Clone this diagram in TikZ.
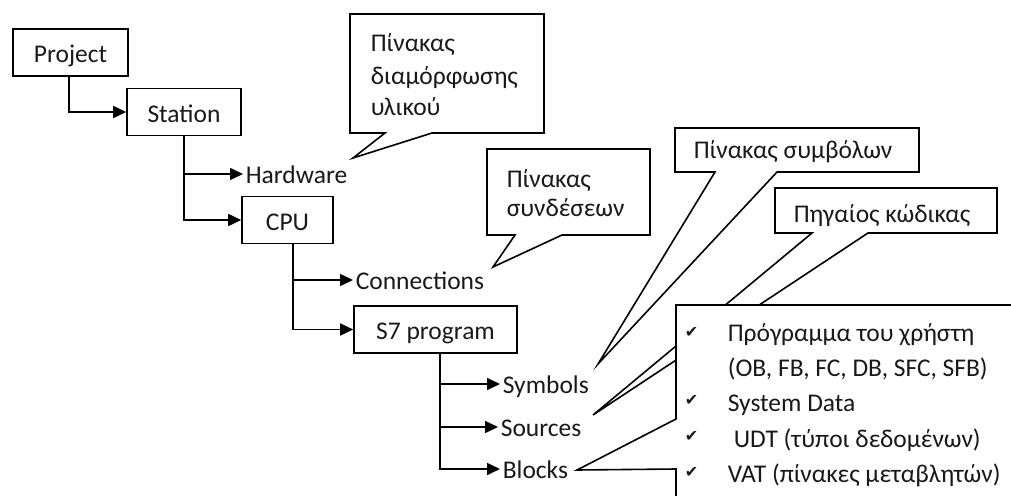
\documentclass[tikz,border=0pt]{standalone}
\usepackage{fontspec}
\setmainfont{Carlito}
\newfontfamily\tickfont{DejaVu Sans}
\usetikzlibrary{arrows.meta,calc}

\begin{document}
\begin{tikzpicture}[x=1pt,y=-1pt,
  line width=1.6pt,
  every node/.style={font=\fontsize{25.5}{31}\selectfont, inner sep=0pt, text=black!90},
  box/.style={draw=black, minimum height=47pt, text height=20pt, text depth=0pt},
  item/.style={anchor=base west, text height=18pt, text depth=0pt},
  txt/.style={anchor=base west},
  link/.style={-{Triangle[length=13pt,width=12pt]}, shorten >=2pt},
  note/.style={draw, fill=white, line join=miter},
  tick/.style={font=\tickfont\fontsize{16}{20}\selectfont, anchor=base west}
]
\useasboundingbox (0,0) rectangle (1011,495);
\clip (0,0) rectangle (1011,495);

% --- tree of project objects ---
\node[box, minimum width=115pt] (project) at (70.5,52.5) {Project};
\node[box, minimum width=114pt] (station) at (184,112) {Station};
\node[box, minimum width=91pt]  (cpu)     at (287.5,220) {CPU};
\node[box, minimum width=163pt] (s7)      at (435.5,329.5) {S7 program};

\node[item] (hw)   at (245,183) {Hardware};
\node[item] (conn) at (355,289) {Connections};
\node[item] (sym)  at (502,393) {Symbols};
\node[item] (src)  at (500,436) {Sources};
\node[item] (blk)  at (502,478) {Blocks};

\coordinate (prjstem) at ($(project.south)+(-1.5,0)$);
\coordinate (stastem) at (station.south);
\coordinate (cpustem) at ($(cpu.south)+(5.5,0)$);
\coordinate (s7stem)  at ($(s7.south)+(4.5,0)$);

\draw[link, shorten >=0pt] (prjstem) |- (station.west);
\draw[link] (stastem |- hw.west) -- (hw.west);
\draw[link, shorten >=0pt] (stastem) |- (cpu.west);
\draw[link] (cpustem |- conn.west) -- (conn.west);
\draw[link, shorten >=0pt] (cpustem) |- (s7.west);
\draw[link] (s7stem |- sym.west) -- (sym.west);
\draw[link] (s7stem |- src.west) -- (src.west);
\draw[link, shorten >=0pt] (s7stem) |- ($(blk.west)+(-2,0)$);

% --- callout tips ---
\coordinate (hwtip)   at (353,158);
\coordinate (conntip) at (493,267);
\coordinate (symtip)  at (598,364);
\coordinate (srctip)  at (593,415);
\coordinate (blktip)  at (577,470);

% hardware configuration table
\draw[note] (350,14) -- (544,14) -- (544,133) -- (432,133) -- (hwtip)
  -- (385,133) -- (350,133) -- cycle;
\node[txt] (hwn1) at (370,52)  {Πίνακας};
\node[txt] (hwn2) at (370,84)  {διαμόρφωσης};
\node[txt] (hwn3) at (370,115) {υλικού};

% connection table
\draw[note] (487,149) -- (650,149) -- (650,235) -- (562,235) -- (conntip)
  -- (515,235) -- (487,235) -- cycle;
\node[txt] (cn1) at (506,187) {Πίνακας};
\node[txt] (cn2) at (506,216) {συνδέσεων};

% symbol table
\draw[note] (675,128) -- (919,128) -- (919,172) -- (777,172) -- (symtip)
  -- (715,172) -- (675,172) -- cycle;
\node[txt] (symn) at (693,158) {Πίνακας συμβόλων};

% source code
\draw[note] (775,188) -- (997,188) -- (997,233) -- (868,233) -- (srctip)
  -- (812,233) -- (775,233) -- cycle;
\node[txt] (srcn) at (793,222) {Πηγαίος κώδικας};

% block contents
\draw[note] (1030,305) -- (676,305) -- (676,419) -- (blktip) -- (676,469)
  -- (676,520) -- (1030,520) -- cycle;
\node[tick] (t1) at (684,337) {✔};
\node[tick] (t2) at (684,405) {✔};
\node[tick] (t3) at (684,441) {✔};
\node[tick] (t4) at (684,477) {✔};
\node[txt] (b1) at (727,341) {Πρόγραμμα του χρήστη};
\node[txt] (b2) at (727,376) {(OB, FB, FC, DB, SFC, SFB)};
\node[txt] (b3) at (727,411) {System Data};
\node[txt] (b4) at (733,447) {UDT (τύποι δεδομένων)};
\node[txt] (b5) at (727,482) {VAT (πίνακες μεταβλητών)};
\end{tikzpicture}
\end{document}
